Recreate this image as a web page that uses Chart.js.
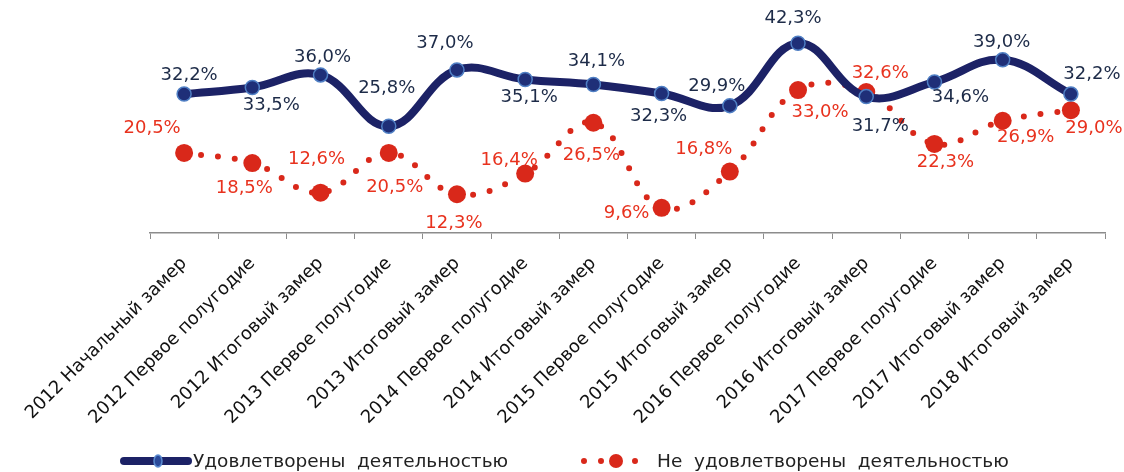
<!DOCTYPE html>
<html>
<head>
<meta charset="utf-8">
<script src="https://cdn.jsdelivr.net/npm/chart.js@4"></script>
<style>
  body { margin: 0; background: #fff; }
  canvas { display: block; }
</style>
</head>
<body>
<canvas id="chart" width="1124" height="472"></canvas>
<script>
const categories = [
  '2012 Начальный замер', '2012 Первое полугодие', '2012 Итоговый замер',
  '2013 Первое полугодие', '2013 Итоговый замер', '2014 Первое полугодие',
  '2014 Итоговый замер', '2015 Первое полугодие', '2015 Итоговый замер',
  '2016 Первое полугодие', '2016 Итоговый замер', '2017 Первое полугодие',
  '2017 Итоговый замер', '2018 Итоговый замер'
]
const satisfied    = [32.2, 33.5, 36.0, 25.8, 37.0, 35.1, 34.1, 32.3, 29.9, 42.3, 31.7, 34.6, 39.0, 32.2]
const notSatisfied = [20.5, 18.5, 12.6, 20.5, 12.3, 16.4, 26.5, 9.6, 16.8, 33.0, 32.6, 22.3, 26.9, 29.0]
const seriesNames  = ['Удовлетворены  деятельностью', 'Не  удовлетворены  деятельностью']

// where each value label sits relative to its point (dx, dy)
const blueLabelPos = [[5,-19],[19,18],[2,-18],[-2,-38],[-12,-27],[4,18],[3,-23],[-3,23],[-13,-19],[-5,-25],[14,30],[26,15],[-1,-18],[21,-20]]
const redLabelPos  = [[-32,-25],[-8,25],[-4,-33],[6,34],[-3,29],[-16,-13],[-2,33],[-35,5],[-26,-22],[22,22],[14,-19],[11,18],[23,17],[23,18]]

const navy = '#1c2266'
const red = '#d9281a'
const fmt = v => v.toFixed(1).replace('.', ',') + '%'

const valueLabels = {
  id: 'valueLabels',
  afterDatasetsDraw(chart) {
    const ctx = chart.ctx
    ctx.save()
    ctx.font = '18px "DejaVu Sans"'
    ctx.textAlign = 'center'
    ctx.textBaseline = 'middle'
    chart.data.datasets.forEach((ds, di) => {
      const pos = di === 0 ? blueLabelPos : redLabelPos
      ctx.fillStyle = di === 0 ? '#1d2b48' : '#e8321e'
      chart.getDatasetMeta(di).data.forEach((pt, i) => {
        ctx.fillText(fmt(ds.data[i]), pt.x + pos[i][0], pt.y + pos[i][1])
      })
    })
    ctx.restore()
  }
}

const bottomLegend = {
  id: 'bottomLegend',
  afterDraw(chart) {
    const ctx = chart.ctx
    const y = 461
    ctx.save()
    // blue entry
    ctx.strokeStyle = navy
    ctx.lineWidth = 8
    ctx.lineCap = 'round'
    ctx.beginPath(); ctx.moveTo(124, y); ctx.lineTo(188, y); ctx.stroke()
    ctx.fillStyle = '#2a4a9a'
    ctx.strokeStyle = '#5b8bd0'
    ctx.lineWidth = 1.5
    ctx.beginPath(); ctx.ellipse(158, y, 4, 6, 0, 0, Math.PI * 2); ctx.fill(); ctx.stroke()
    // red entry
    ctx.strokeStyle = red
    ctx.lineWidth = 6
    ctx.setLineDash([0, 17])
    ctx.beginPath(); ctx.moveTo(584, y); ctx.lineTo(650, y); ctx.stroke()
    ctx.setLineDash([])
    ctx.fillStyle = red
    ctx.beginPath(); ctx.arc(616, y, 7, 0, Math.PI * 2); ctx.fill()
    // texts
    ctx.fillStyle = '#222'
    ctx.font = '18.5px "DejaVu Sans"'
    ctx.textBaseline = 'middle'
    ctx.fillText(seriesNames[0], 193, y + 1)
    ctx.fillText(seriesNames[1], 657, y + 1)
    ctx.restore()
  }
}

new Chart(document.getElementById('chart'), {
  type: 'line',
  data: {
    labels: categories,
    datasets: [{
      label: seriesNames[0],
      data: satisfied,
      borderColor: navy,
      borderWidth: 8,
      tension: 0.4,
      pointRadius: 7,
      pointBackgroundColor: '#1f2f78',
      pointBorderColor: '#4f7fc4',
      pointBorderWidth: 1.5
    }, {
      label: seriesNames[1],
      data: notSatisfied,
      borderColor: red,
      borderWidth: 6,
      borderDash: [0, 17],
      borderCapStyle: 'round',
      tension: 0.4,
      pointRadius: 9,
      pointBackgroundColor: red,
      pointBorderColor: red,
      pointBorderWidth: 0
    }]
  },
  options: {
    responsive: false,
    animation: false,
    layout: { padding: { top: 10, left: 150, right: 19, bottom: 0 } },
    plugins: { legend: { display: false }, tooltip: { enabled: false } },
    scales: {
      x: {
        offset: true,
        afterFit(scale) { scale.height = 239 },
        grid: { offset: true, drawOnChartArea: false, drawTicks: true, tickLength: 6, color: '#8c8c8c' },
        border: { display: true, color: '#8c8c8c', width: 1.5 },
        ticks: {
          minRotation: 45, maxRotation: 45, autoSkip: false,
          color: '#111', padding: 14,
          font: { family: 'DejaVu Sans', size: 18 }
        }
      },
      y: { display: false, min: 4.6, max: 48.9 }
    }
  },
  plugins: [valueLabels, bottomLegend]
})
</script>
</body>
</html>
